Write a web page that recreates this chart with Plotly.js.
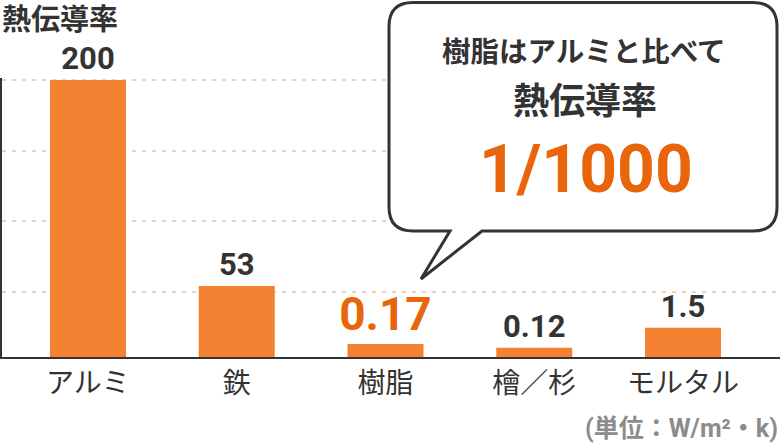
<!DOCTYPE html>
<html>
<head>
<meta charset="utf-8">
<script src="https://cdn.plot.ly/plotly-3.0.1.min.js"></script>
<style>
  html, body { margin: 0; padding: 0; background: #fff; }
  #chart { width: 780px; height: 444px; }
</style>
</head>
<body>
<div id="chart"></div>
<script>
var materials = ['アルミ', '鉄', '樹脂', '檜／杉', 'モルタル'];
var conductivity = ['200', '53', '0.17', '0.12', '1.5'];
// bar heights as drawn in the picture (not to scale with the real values)
var barHeight = [200, 51.3, 9.4, 6.7, 21.2];
var highlight = '樹脂';

var FONT = 'Roboto, "Noto Sans CJK JP", sans-serif';
var DARK = '#333333';
var ORANGE = '#e8650c';

// plot area in pixels, used to place the callout
var L = 2, T = 78, W = 778, H = 279;
function px(x) { return (x - L) / W; }
function py(y) { return (T + H - y) / H; }

var trace = {
  type: 'bar',
  x: materials,
  y: barHeight,
  text: conductivity.map(function (v) { return '<b>' + v + '</b>'; }),
  textposition: 'outside',
  constraintext: 'none',
  cliponaxis: false,
  textfont: {
    family: FONT,
    size: materials.map(function (m) { return m === highlight ? 46 : 31; }),
    color: materials.map(function (m) { return m === highlight ? ORANGE : DARK; })
  },
  width: 0.511,
  marker: { color: '#f58233' },
  hoverinfo: 'skip'
};

// speech bubble
var bx0 = 389, bx1 = 777, by0 = 2.5, by1 = 231, r = 24;
var bubble = 'M' + px(bx0 + r) + ',' + py(by0) +
  ' L' + px(bx1 - r) + ',' + py(by0) +
  ' Q' + px(bx1) + ',' + py(by0) + ' ' + px(bx1) + ',' + py(by0 + r) +
  ' L' + px(bx1) + ',' + py(by1 - r) +
  ' Q' + px(bx1) + ',' + py(by1) + ' ' + px(bx1 - r) + ',' + py(by1) +
  ' L' + px(482) + ',' + py(by1) +
  ' L' + px(421) + ',' + py(279) +
  ' L' + px(450) + ',' + py(by1) +
  ' L' + px(bx0 + r) + ',' + py(by1) +
  ' Q' + px(bx0) + ',' + py(by1) + ' ' + px(bx0) + ',' + py(by1 - r) +
  ' L' + px(bx0) + ',' + py(by0 + r) +
  ' Q' + px(bx0) + ',' + py(by0) + ' ' + px(bx0 + r) + ',' + py(by0) + ' Z';

var layout = {
  width: 780,
  height: 444,
  margin: { l: L, r: 0, t: T, b: 444 - T - H },
  paper_bgcolor: '#ffffff',
  plot_bgcolor: '#ffffff',
  showlegend: false,
  font: { family: FONT, color: DARK },
  xaxis: {
    type: 'category',
    range: [-0.578, 4.652],
    showline: true,
    linecolor: DARK,
    linewidth: 2,
    ticks: '',
    tickfont: { family: FONT, size: 28, color: DARK },
    fixedrange: true
  },
  yaxis: {
    range: [0, 201.44],
    tick0: 47,
    dtick: 51,
    showgrid: true,
    gridcolor: '#edd1bf',
    gridwidth: 2,
    griddash: '4px,6px',
    zeroline: false,
    showline: true,
    linecolor: DARK,
    linewidth: 2,
    showticklabels: false,
    ticks: '',
    fixedrange: true
  },
  shapes: [{
    type: 'path',
    xref: 'paper',
    yref: 'paper',
    path: bubble,
    fillcolor: '#ffffff',
    line: { color: DARK, width: 3 },
    layer: 'above'
  }],
  annotations: [
    {
      text: '<b>熱伝導率</b>', xref: 'paper', yref: 'paper',
      x: px(0), y: py(20), xanchor: 'left', yanchor: 'middle',
      showarrow: false, font: { family: FONT, size: 29, color: DARK }
    },
    {
      text: '<b>樹脂はアルミと比べて</b>', xref: 'paper', yref: 'paper',
      x: px(584), y: py(53), xanchor: 'center', yanchor: 'middle',
      showarrow: false, font: { family: FONT, size: 28.5, color: DARK }
    },
    {
      text: '<b>熱伝導率</b>', xref: 'paper', yref: 'paper',
      x: px(585), y: py(102), xanchor: 'center', yanchor: 'middle',
      showarrow: false, font: { family: FONT, size: 36, color: DARK }
    },
    {
      text: '<b>1/1000</b>', xref: 'paper', yref: 'paper',
      x: px(586), y: py(169), xanchor: 'center', yanchor: 'middle',
      showarrow: false, font: { family: FONT, size: 66, color: ORANGE }
    },
    {
      text: '<b>(単位：W/m²・k)</b>', xref: 'paper', yref: 'paper',
      x: px(780), y: py(428), xanchor: 'right', yanchor: 'middle',
      showarrow: false, font: { family: FONT, size: 25, color: '#8c8c8c' }
    }
  ]
};

Plotly.newPlot('chart', [trace], layout, { displayModeBar: false, staticPlot: true });
</script>
</body>
</html>
